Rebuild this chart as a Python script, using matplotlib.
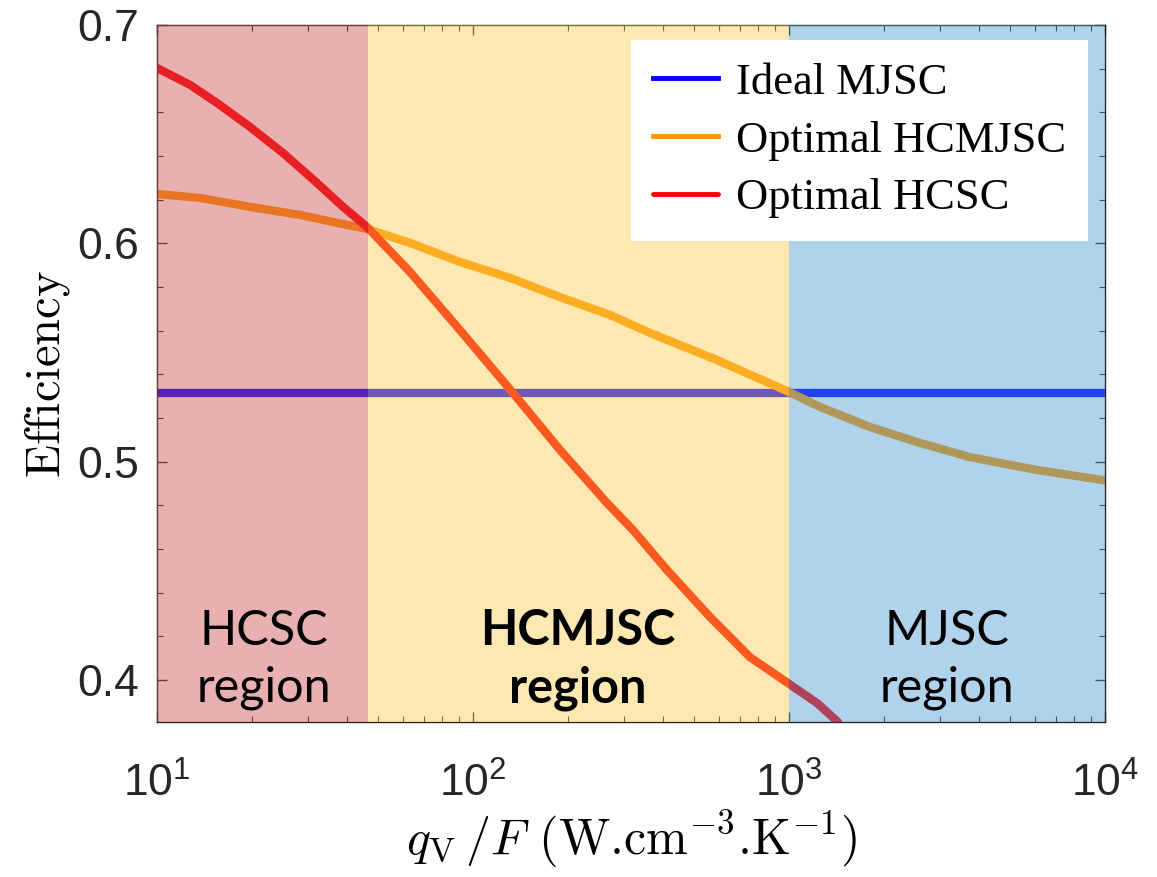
import matplotlib
matplotlib.use("Agg")
import matplotlib.pyplot as plt
from matplotlib.ticker import MultipleLocator, LogLocator, NullFormatter

plt.rcParams['mathtext.fontset'] = 'cm'
plt.rcParams['font.family'] = ['Liberation Sans', 'DejaVu Sans']

# ---- data ----
ideal_x = [10, 10000]
ideal_y = [0.5315, 0.5315]

hcmjsc_x = [10, 13.68, 19.70, 28.35, 36.06, 46.2, 63.2, 90.9, 130.9, 188.5, 271.4,
            363, 591, 985, 1254, 1803, 2598, 3740, 6093, 9860]
hcmjsc_y = [0.6226, 0.6208, 0.6167, 0.6130, 0.6098, 0.6066, 0.6002, 0.5915, 0.5842,
            0.5754, 0.5672, 0.5590, 0.5466, 0.5324, 0.5251, 0.5159, 0.5086, 0.5021,
            0.4962, 0.4916]

hcsc_x = [10, 12.72, 15.48, 19.70, 25.04, 32.08, 38.79, 46.2, 63.2, 90.9, 133.8,
          188.5, 265.5, 320.8, 411.1, 562.3, 752.6, 992.7, 1226, 1429]
hcsc_y = [0.6803, 0.6726, 0.6643, 0.6533, 0.6414, 0.6277, 0.6167, 0.6075, 0.5869,
          0.5603, 0.5315, 0.5054, 0.4811, 0.4687, 0.4504, 0.4289, 0.4105, 0.3986,
          0.3895, 0.3808]

region_bounds = [10, 46.5, 1000, 10000]
region_labels = ["HCSC\nregion", "HCMJSC\nregion", "MJSC\nregion"]
region_colors = ["#cd4b50", "#facb4c", "#4b99d2"]
region_weights = ["normal", "bold", "normal"]
region_label_x = [21.8, 215, 3162]

legend_labels = ["Ideal MJSC", "Optimal HCMJSC", "Optimal HCSC"]
line_colors = ["#0000ff", "#ff9600", "#ff0000"]

yticks = [0.4, 0.5, 0.6, 0.7]
xticks = [10, 100, 1000, 10000]
xtick_labels = [r"$\mathregular{10^{1}}$", r"$\mathregular{10^{2}}$",
                r"$\mathregular{10^{3}}$", r"$\mathregular{10^{4}}$"]

# ---- figure ----
fig = plt.figure(figsize=(11.57, 8.77), dpi=100)
ax = fig.add_axes([0.1357, 0.1767, 0.8194, 0.7948])

lw = 6
l1, = ax.plot(ideal_x, ideal_y, color=line_colors[0], lw=lw, zorder=2, label=legend_labels[0])
l2, = ax.plot(hcmjsc_x, hcmjsc_y, color=line_colors[1], lw=lw, zorder=2, label=legend_labels[1])
l3, = ax.plot(hcsc_x, hcsc_y, color=line_colors[2], lw=lw, zorder=2, label=legend_labels[2],
              solid_capstyle='round')

ax.set_xscale('log')
ax.set_xlim(10, 10000)
ax.set_ylim(0.3808, 0.7)

for i in range(3):
    ax.axvspan(region_bounds[i], region_bounds[i + 1], color=region_colors[i],
               alpha=0.44, lw=0, zorder=3)
    ax.text(region_label_x[i], 0.4094, region_labels[i], ha='center', va='center',
            fontsize=35, family=['Lato', 'DejaVu Sans'], fontweight=region_weights[i],
            linespacing=1.33, zorder=4)

ax.set_xticks(xticks)
ax.set_xticklabels(xtick_labels)
ax.xaxis.set_minor_locator(LogLocator(base=10, subs=range(2, 10)))
ax.xaxis.set_minor_formatter(NullFormatter())
ax.set_yticks(yticks)
ax.set_yticklabels([str(t) for t in yticks])
ax.yaxis.set_minor_locator(MultipleLocator(0.02))

ax.tick_params(which='both', direction='in', top=True, right=True, colors='#262626',
               labelcolor='#262626')
ax.tick_params(which='major', length=7, width=1, labelsize=32)
ax.tick_params(axis='x', which='major', pad=29)
ax.tick_params(axis='y', which='major', pad=13)
ax.tick_params(which='minor', length=4, width=0.8)
for s in ax.spines.values():
    s.set_color('#262626')
    s.set_linewidth(1)

ax.set_ylabel(r"$\mathrm{Efficiency}$", fontsize=35, labelpad=4)
ax.set_xlabel(r"$q_\mathrm{V}\,/F$ (W.cm$^{-3}$.K$^{-1}$)", fontsize=36, labelpad=2,
              family=['cmr10', 'DejaVu Serif'])

leg = ax.legend(handles=[l1, l2, l3], loc='upper right', bbox_to_anchor=(0.982, 0.978),
                borderaxespad=0, frameon=True, fancybox=False, framealpha=1,
                edgecolor='none', facecolor='white',
                prop={'family': ['Liberation Serif', 'DejaVu Serif'], 'size': 32},
                handlelength=1.45, handletextpad=0.4, labelspacing=0.4, borderpad=0.5)
for h in leg.get_lines():
    h.set_linewidth(3.5)
leg.set_zorder(10)

fig.savefig("out.png", dpi=100)
